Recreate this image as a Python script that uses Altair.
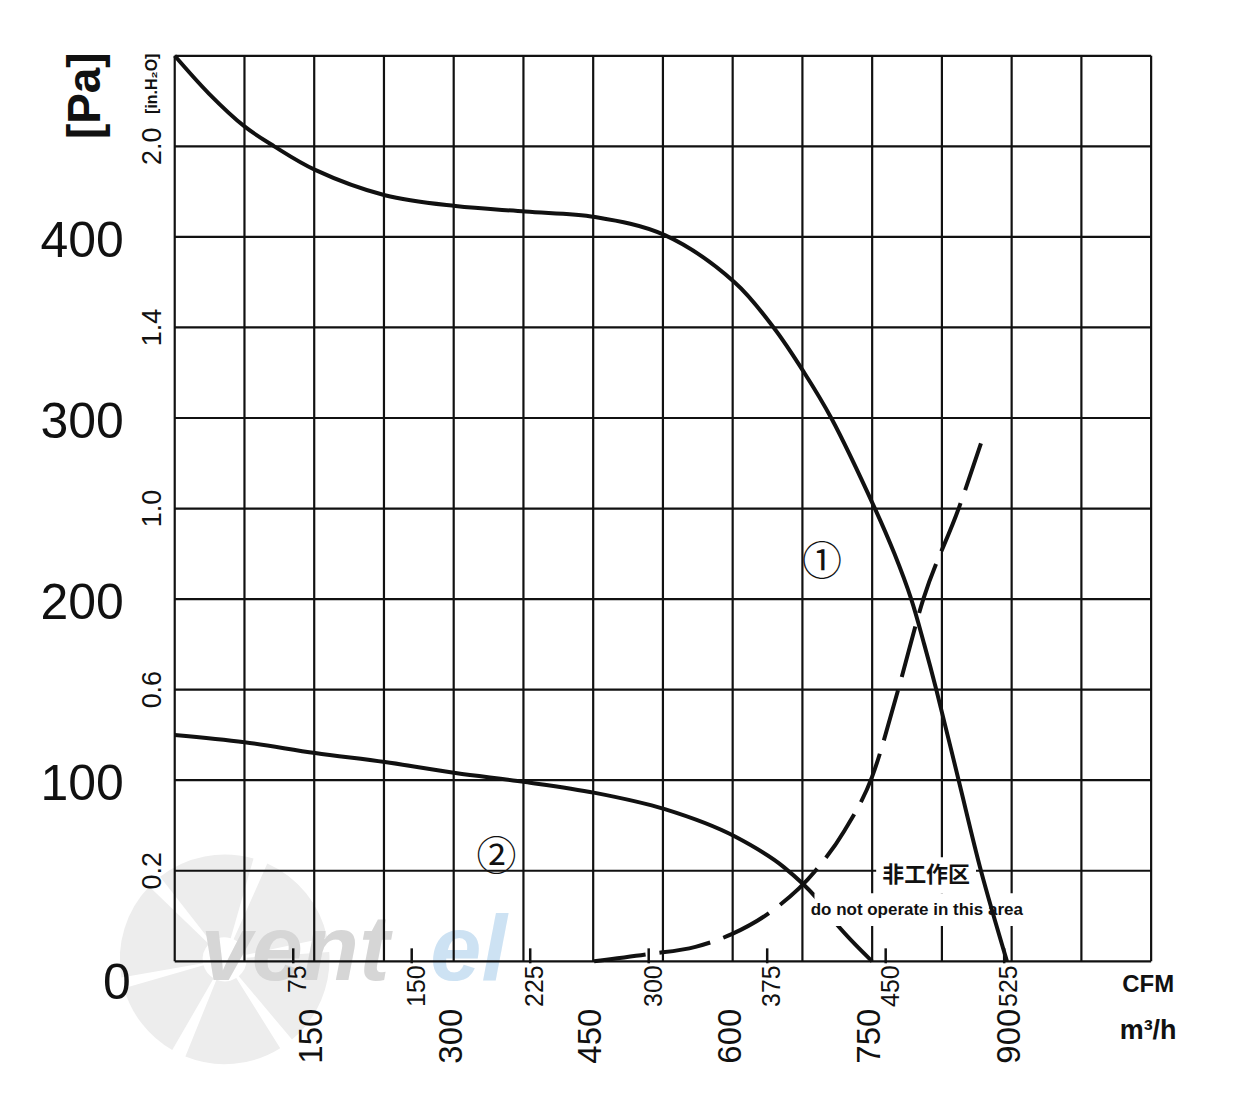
import altair as alt
import pandas as pd

W, H = 978, 907
X_MAX, Y_MAX = 1050, 500

# ---------------- data ----------------
# curve 1 (solid)  flow [m3/h] / static pressure [Pa]
c1_flow = [0, 37, 75, 107, 151, 226, 302, 377, 452, 527, 602, 644, 677, 706, 753, 774, 792, 806, 819, 843, 867, 895]
c1_pa = [500, 479, 461, 450, 437, 423, 417, 414, 411, 401, 375, 350, 325, 300, 250, 225, 200, 175, 150, 100, 50, 0]

# curve 2 (solid)
c2_flow = [0, 75, 151, 226, 302, 377, 452, 527, 602, 655, 690, 711, 750]
c2_pa = [125, 121, 115, 110, 104, 99, 93, 84, 69, 52, 35, 21, 0]

# system / limit curve (dashed)
sys_flow = [451, 510, 560, 599, 640, 689, 720, 750, 778, 805, 843, 867]
sys_pa = [0, 4, 8, 15, 27, 50, 72, 102, 150, 200, 250, 286]

grid_flow = list(range(0, 1051, 75))
grid_pa = list(range(0, 501, 50))

pa_values = [100, 200, 300, 400]
pa_labels = ["100", "200", "300", "400"]
pa_zero = [0]
pa_zero_label = ["0"]

inh2o_values = [50, 150, 250, 350, 450]
inh2o_labels = ["0.2", "0.6", "1.0", "1.4", "2.0"]

cfm_ticks = [75, 150, 225, 300, 375, 450, 525]
CFM_TO_M3H = 1.699
m3h_ticks = [150, 300, 450, 600, 750, 900]

ann_text = ["①", "②"]
ann_flow = [696, 346]
ann_pa = [220, 57]

zone_text = ["非工作区", "do not operate in this area"]
zone_flow = [808, 798]
zone_pa = [47.5, 28.5]

# watermark fan blades (degrees, clockwise from 12 o'clock)
blade_start = [-100, -38, 24, 86, 148, 210]
blade_end = [-46, 16, 78, 140, 202, 254]

# ---------------- styles ----------------
SANS = "Liberation Sans"
CJK = "Noto Sans CJK SC"
INK = "#111111"

xs = alt.Scale(domain=[0, X_MAX], nice=False, zero=False)
ys = alt.Scale(domain=[0, Y_MAX], nice=False, zero=False)


def X(f):
    return alt.X(f, type="quantitative", scale=xs, axis=None)


def Y(f):
    return alt.Y(f, type="quantitative", scale=ys, axis=None)


# ---------------- layers ----------------
fan = alt.Chart(pd.DataFrame({"a0": blade_start, "a1": blade_end})).transform_calculate(
    t0="datum.a0 * PI / 180", t1="datum.a1 * PI / 180"
).mark_arc(color="#ededed", radius=105, radius2=22).encode(
    theta=alt.Theta("t0:Q", scale=None), theta2="t1:Q",
    x=alt.value(50), y=alt.value(905)
)

wm_vent = alt.Chart(pd.DataFrame({"t": ["vent"]})).mark_text(
    font=SANS, fontSize=92, fontWeight="bold", fontStyle="italic",
    color="#d6d6d6", align="left", baseline="alphabetic"
).encode(text="t:N", x=alt.value(26), y=alt.value(926))

wm_el = alt.Chart(pd.DataFrame({"t": ["el"]})).mark_text(
    font=SANS, fontSize=92, fontWeight="bold", fontStyle="italic",
    color="#cde2f3", align="left", baseline="alphabetic"
).encode(text="t:N", x=alt.value(256), y=alt.value(926))

vgrid = alt.Chart(pd.DataFrame({"flow": grid_flow})).mark_rule(
    color=INK, strokeWidth=2.2
).encode(x=X("flow"), y=alt.value(0), y2=alt.value(H))

hgrid = alt.Chart(pd.DataFrame({"pa": grid_pa})).mark_rule(
    color=INK, strokeWidth=2.2
).encode(y=Y("pa"), x=alt.value(0), x2=alt.value(W))

cfm_df = pd.DataFrame({"cfm": cfm_ticks})
cfm_tick_marks = alt.Chart(cfm_df).transform_calculate(
    pos=f"datum.cfm * {CFM_TO_M3H}"
).mark_rule(color=INK, strokeWidth=2.5).encode(
    x=X("pos"), y=alt.value(H - 13), y2=alt.value(H + 2)
)

cfm_text = alt.Chart(cfm_df).transform_calculate(
    pos=f"datum.cfm * {CFM_TO_M3H}", lab="'' + datum.cfm"
).mark_text(
    font=SANS, fontSize=25, angle=270, align="right", baseline="middle",
    dy=5, color=INK
).encode(x=X("pos"), y=alt.value(H + 4), text="lab:N")

m3h_text = alt.Chart(pd.DataFrame({"m": m3h_ticks})).transform_calculate(
    lab="'' + datum.m"
).mark_text(
    font=SANS, fontSize=33, angle=270, align="center", baseline="middle",
    dy=-2, color=INK
).encode(x=X("m"), y=alt.value(H + 75), text="lab:N")

pa_text = alt.Chart(pd.DataFrame({"pa": pa_values, "lab": pa_labels})).mark_text(
    font=SANS, fontSize=50, align="right", baseline="middle", dy=5, color=INK
).encode(y=Y("pa"), x=alt.value(-51), text="lab:N")

pa_zero_text = alt.Chart(pd.DataFrame({"pa": pa_zero, "lab": pa_zero_label})).mark_text(
    font=SANS, fontSize=50, align="right", baseline="middle", dy=23, color=INK
).encode(y=Y("pa"), x=alt.value(-44), text="lab:N")

inh2o_text = alt.Chart(pd.DataFrame({"pa": inh2o_values, "lab": inh2o_labels})).mark_text(
    font=SANS, fontSize=27, angle=270, align="center", baseline="middle", color=INK
).encode(y=Y("pa"), x=alt.value(-22), text="lab:N")

pa_title = alt.Chart(pd.DataFrame({"t": ["[Pa]"]})).mark_text(
    font=SANS, fontSize=46, fontWeight="bold", angle=270, align="center",
    baseline="middle", color=INK
).encode(text="t:N", x=alt.value(-89), y=alt.value(40))

inh2o_title = alt.Chart(pd.DataFrame({"t": ["[in.H₂O]"]})).mark_text(
    font=SANS, fontSize=16, fontWeight="bold", angle=270, align="center",
    baseline="middle", color=INK
).encode(text="t:N", x=alt.value(-23), y=alt.value(28))

cfm_unit = alt.Chart(pd.DataFrame({"t": ["CFM"]})).mark_text(
    font=SANS, fontSize=24, fontWeight="bold", align="center", baseline="middle", color=INK
).encode(text="t:N", x=alt.value(975), y=alt.value(931))

m3h_unit = alt.Chart(pd.DataFrame({"t": ["m³/h"]})).mark_text(
    font=SANS, fontSize=27, fontWeight="bold", align="center", baseline="middle", color=INK
).encode(text="t:N", x=alt.value(975), y=alt.value(977))

curve2 = alt.Chart(pd.DataFrame({"flow": c2_flow, "pa": c2_pa})).mark_line(
    color=INK, strokeWidth=4, interpolate="monotone"
).encode(x=X("flow"), y=Y("pa"))

sys_curve = alt.Chart(pd.DataFrame({"flow": sys_flow, "pa": sys_pa})).mark_line(
    color=INK, strokeWidth=4, interpolate="monotone", strokeDash=[52, 14]
).encode(x=X("flow"), y=Y("pa"))

zone_df = pd.DataFrame({"flow": zone_flow, "pa": zone_pa, "t": zone_text})

# white masks behind the "do not operate" note (rectangular symbols centred on the texts)
RECT_CN = "M-1,-0.36L1,-0.36L1,0.36L-1,0.36Z"
RECT_EN = "M-1,-0.16L1,-0.16L1,0.16L-1,0.16Z"
mask_cn = alt.Chart(zone_df.iloc[[0]]).mark_point(
    shape=RECT_CN, size=100 * 100, filled=True, fill="white", opacity=1, strokeWidth=0
).encode(x=X("flow"), y=Y("pa"))
mask_en = alt.Chart(zone_df.iloc[[1]]).mark_point(
    shape=RECT_EN, size=205 * 205, filled=True, fill="white", opacity=1, strokeWidth=0
).encode(x=X("flow"), y=Y("pa"))

curve1 = alt.Chart(pd.DataFrame({"flow": c1_flow, "pa": c1_pa})).mark_line(
    color=INK, strokeWidth=4, interpolate="catmull-rom"
).encode(x=X("flow"), y=Y("pa"))

zone_cn = alt.Chart(zone_df.iloc[[0]]).mark_text(
    font=CJK, fontSize=22, fontWeight="bold", color=INK, align="center", baseline="middle"
).encode(x=X("flow"), y=Y("pa"), text="t:N")

zone_en = alt.Chart(zone_df.iloc[[1]]).mark_text(
    font=SANS, fontSize=17, fontWeight="bold", color=INK, align="center", baseline="middle"
).encode(x=X("flow"), y=Y("pa"), text="t:N")

ann = alt.Chart(pd.DataFrame({"flow": ann_flow, "pa": ann_pa, "t": ann_text})).mark_text(
    font=CJK, fontSize=40, color=INK, align="center", baseline="middle"
).encode(x=X("flow"), y=Y("pa"), text="t:N")

chart = alt.layer(
    fan, wm_vent, wm_el, vgrid, hgrid, cfm_tick_marks, curve2, sys_curve,
    mask_cn, mask_en, curve1, zone_cn, zone_en, ann,
    pa_text, pa_zero_text, inh2o_text, pa_title, inh2o_title,
    cfm_text, m3h_text, cfm_unit, m3h_unit
).properties(
    width=W, height=H,
    padding={"left": 167, "top": 47, "right": 80, "bottom": 110},
    autosize=alt.AutoSizeParams(type="none"),
    background="white"
).configure_view(stroke=None)

chart.save("out.html", embed_options={"renderer": "svg", "actions": False})
